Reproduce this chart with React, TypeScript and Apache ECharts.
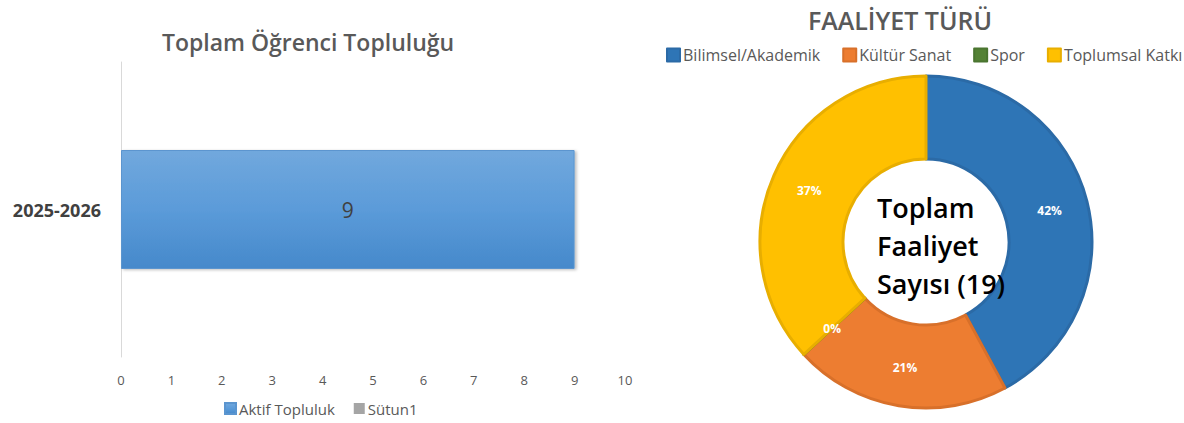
import React, { useEffect, useRef } from "react";
import * as echarts from "echarts";

const barCategories = ["2025-2026"];
const barSeriesNames = ["Aktif Topluluk", "Sütun1"];
const aktifValues = [9];
const sutunValues: (number | null)[] = [];
const xTicks = { min: 0, max: 10, interval: 1 };

const pieNames = ["Bilimsel/Akademik", "Kültür Sanat", "Spor", "Toplumsal Katkı"];
const pieValues = [8, 4, 0, 7];
const pieColors = ["#2e75b6", "#ed7d31", "#548235", "#ffc000"];
const pieBorders = ["#2b6aa6", "#d8702a", "#4a7530", "#e8ae00"];
const centerText = "Toplam\nFaaliyet\nSayısı (19)";

const FONT = "'Open Sans', 'Noto Sans', sans-serif";

export default function App() {
  const ref = useRef<HTMLDivElement>(null);
  useEffect(() => {
    if (!ref.current) return;
    const chart = echarts.init(ref.current, undefined, { renderer: "svg" });
    chart.setOption({
      animation: false,
      backgroundColor: "#ffffff",
      textStyle: { fontFamily: FONT },
      title: [
        {
          text: "Toplam Öğrenci Topluluğu",
          left: 303,
          top: 25,
          textAlign: "center",
          textStyle: { fontSize: 23, fontWeight: 600, color: "#595959", fontFamily: FONT },
        },
        {
          text: "FAALİYET TÜRÜ",
          left: 895,
          top: 2,
          textAlign: "center",
          textStyle: { fontSize: 25, fontWeight: 600, color: "#595959", fontFamily: FONT },
        },
      ],
      legend: [
        {
          data: barSeriesNames,
          left: 224,
          top: 401,
          icon: "rect",
          itemWidth: 11,
          itemHeight: 11,
          itemGap: 19,
          textStyle: { fontSize: 15, color: "#595959", padding: [0, 0, 0, -2] },
          padding: 0,
        },
        {
          data: pieNames,
          left: 666,
          top: 47,
          icon: "rect",
          itemWidth: 13,
          itemHeight: 13,
          itemGap: 22,
          textStyle: { fontSize: 16, color: "#595959", padding: [0, 0, 0, -2] },
          padding: 0,
        },
      ],
      grid: { left: 121, width: 504, top: 62, height: 295 },
      xAxis: {
        type: "value",
        min: xTicks.min,
        max: xTicks.max,
        interval: xTicks.interval,
        axisLine: { show: false },
        axisTick: { show: false },
        splitLine: { show: false },
        axisLabel: { color: "#595959", fontSize: 13, margin: 16 },
      },
      yAxis: {
        type: "category",
        data: barCategories,
        axisLine: { show: true, lineStyle: { color: "#d9d9d9", width: 1 } },
        axisTick: { show: false },
        axisLabel: { color: "#404040", fontSize: 18, fontWeight: "bold", margin: 20 },
      },
      series: [
        {
          name: barSeriesNames[0],
          type: "bar",
          data: aktifValues,
          barWidth: 119,
          barGap: "-100%",
          itemStyle: {
            color: new echarts.graphic.LinearGradient(0, 0, 0, 1, [
              { offset: 0, color: "#71a8dd" },
              { offset: 0.5, color: "#5b9bd9" },
              { offset: 1, color: "#4689cb" },
            ]),
            borderColor: "#5b95cf",
            borderWidth: 1,
            shadowColor: "rgba(0,0,0,0.25)",
            shadowBlur: 3,
            shadowOffsetX: 2,
            shadowOffsetY: 1,
          },
          label: {
            show: true,
            position: "inside",
            color: "#404040",
            fontSize: 21,
          },
        },
        {
          name: barSeriesNames[1],
          type: "bar",
          data: sutunValues,
          barWidth: 119,
          itemStyle: { color: "#a5a5a5" },
        },
        {
          name: "Faaliyet",
          type: "pie",
          center: [926, 242],
          radius: [83, 166],
          startAngle: 90,
          clockwise: true,
          avoidLabelOverlap: false,
          data: pieNames.map((n, i) => ({
            name: n,
            value: pieValues[i],
            itemStyle: { color: pieColors[i], borderColor: pieBorders[i], borderWidth: 3 },
          })),
          label: {
            show: true,
            position: "inside",
            color: "#ffffff",
            fontSize: 12,
            fontWeight: "bold",
            formatter: (p: any) => Math.round(p.percent) + "%",
          },
          labelLine: { show: false },
          emphasis: { disabled: true },
        },
      ],
      graphic: [
        {
          type: "text",
          left: 877,
          top: 188,
          style: {
            text: centerText,
            fill: "#000000",
            font: `600 27px ${FONT}`,
            lineHeight: 38,
          },
          z: 100,
        },
      ],
    });
    return () => chart.dispose();
  }, []);
  return (
    <div
      ref={ref}
      style={{ position: "fixed", left: 0, top: 0, width: 1184, height: 423 }}
    />
  );
}
